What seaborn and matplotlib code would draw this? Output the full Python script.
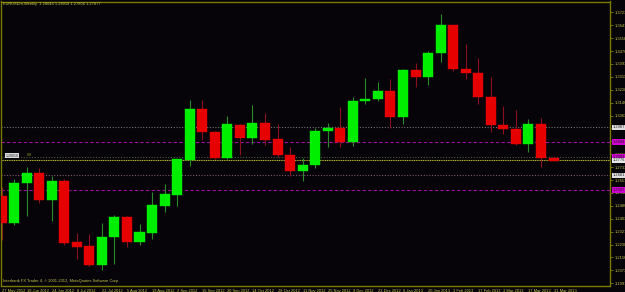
import matplotlib
matplotlib.use("Agg")
import matplotlib.pyplot as plt
import seaborn as sns
import numpy as np

# ---- data (weekly EURUSD candles) ----
opens  = [1.2551, 1.2378, 1.2630, 1.2694, 1.2523, 1.2645, 1.2255, 1.2229, 1.2107, 1.2285,
          1.2412, 1.2255, 1.2314, 1.2487, 1.2557, 1.2779, 1.3105, 1.2958, 1.2794, 1.3005,
          1.2922, 1.3014, 1.2911, 1.2809, 1.2707, 1.2745, 1.2963, 1.2986, 1.2892, 1.3158,
          1.3169, 1.3220, 1.3056, 1.3353, 1.3310, 1.3461, 1.3642, 1.3359, 1.3333, 1.3182,
          1.3005, 1.2977, 1.2879, 1.3007, 1.2792]
highs  = [1.2608, 1.2656, 1.2736, 1.2730, 1.2679, 1.2657, 1.2314, 1.2306, 1.2374, 1.2425,
          1.2423, 1.2370, 1.2576, 1.2624, 1.2783, 1.3163, 1.3163, 1.2962, 1.3062, 1.3009,
          1.3131, 1.3078, 1.3009, 1.2864, 1.2790, 1.2982, 1.3018, 1.3116, 1.3180, 1.3301,
          1.3276, 1.3295, 1.3359, 1.3397, 1.3476, 1.3711, 1.3645, 1.3519, 1.3429, 1.3312,
          1.3124, 1.3099, 1.3039, 1.3046, 1.2796]
lows   = [1.2267, 1.2363, 1.2423, 1.2502, 1.2389, 1.2235, 1.2146, 1.2101, 1.2075, 1.2112,
          1.2224, 1.2235, 1.2276, 1.2448, 1.2487, 1.2741, 1.2907, 1.2788, 1.2788, 1.2811,
          1.2881, 1.2875, 1.2800, 1.2677, 1.2647, 1.2726, 1.2864, 1.2864, 1.2870, 1.3135,
          1.3158, 1.2986, 1.3007, 1.3248, 1.3259, 1.3408, 1.3348, 1.3297, 1.3135, 1.2956,
          1.2943, 1.2875, 1.2832, 1.2736, 1.2772]
closes = [1.2378, 1.2630, 1.2694, 1.2523, 1.2645, 1.2250, 1.2224, 1.2107, 1.2288, 1.2412,
          1.2255, 1.2317, 1.2489, 1.2560, 1.2783, 1.3105, 1.2956, 1.2794, 1.3007, 1.2922,
          1.3014, 1.2909, 1.2809, 1.2707, 1.2745, 1.2963, 1.2986, 1.2892, 1.3158, 1.3171,
          1.3220, 1.3056, 1.3353, 1.3310, 1.3461, 1.3642, 1.3359, 1.3333, 1.3182, 1.3003,
          1.2977, 1.2879, 1.3007, 1.2790, 1.2774]

date_labels = ["27 May 2012", "10 Jun 2012", "24 Jun 2012", "8 Jul 2012", "22 Jul 2012",
               "5 Aug 2012", "19 Aug 2012", "2 Sep 2012", "16 Sep 2012", "30 Sep 2012",
               "14 Oct 2012", "28 Oct 2012", "11 Nov 2012", "25 Nov 2012", "9 Dec 2012",
               "23 Dec 2012", "6 Jan 2013", "20 Jan 2013", "3 Feb 2013", "17 Feb 2013",
               "3 Mar 2013", "17 Mar 2013", "31 Mar 2013"]

price_ticks = [1.19910, 1.20735, 1.21560, 1.22385, 1.23210, 1.24035, 1.24860, 1.25685,
               1.26510, 1.27335, 1.28160, 1.28985, 1.29810, 1.30635, 1.31460, 1.32285,
               1.33110, 1.33935, 1.34760, 1.35585, 1.36410, 1.37235]

level_prices = [1.2987, 1.2894, 1.2801, 1.2776, 1.2681, 1.2587]
level_colors = ["#707070", "#9a109a", "#4a5a40", "#b8b830", "#7a5a68", "#9a109a"]
level_styles = [(0, (1, 1.5)), (0, (3, 2)), (0, (1, 1.5)), (0, (1, 0.6)), (0, (1, 1.5)), (0, (3, 2))]
level_boxes = ["#e0e0e0", "#d000d0", "#d000d0", "#e8e8e8", "#e0e0e0", "#d000d0"]

title_text = "EURUSDm,Weekly  1.28044 1.28059 1.27806 1.27877"
footer_text = "Interbank FX Trader 4, \u00a9 2001-2012, MetaQuotes Software Corp."

# ---- style ----
BG = "#060409"
AX = "#7a7a00"
TXT = "#c4c450"
FS = 2.9
sns.set_theme(style="dark", rc={"axes.facecolor": BG, "figure.facecolor": BG})
plt.rcParams["font.family"] = ["Liberation Sans", "DejaVu Sans"]

fig = plt.figure(figsize=(6.25, 2.92), dpi=100)
W, H = 625, 292
ax = fig.add_axes([1 / W, (H - 285.5) / H, (610 - 1) / W, (285.5 - 1.5) / H])
ax.set_facecolor(BG)

x = np.arange(len(opens))
o = np.array(opens); c = np.array(closes); hi = np.array(highs); lo = np.array(lows)
up = c >= o

# wicks
ax.vlines(x[up], lo[up], hi[up], color="#2a8a2a", lw=0.8, zorder=2)
ax.vlines(x[~up], lo[~up], hi[~up], color="#8a1020", lw=0.8, zorder=2)
# bodies
bw = 0.8
ax.bar(x[up], (c - o)[up], bottom=o[up], width=bw, color="#00ee00", edgecolor="#00ee00",
       linewidth=0.3, zorder=3)
ax.bar(x[~up], (o - c)[~up], bottom=c[~up], width=bw, color="#e60000", edgecolor="#e60000",
       linewidth=0.3, zorder=3)

# horizontal levels with price boxes on the right scale
for p, col, ls, bc in zip(level_prices, level_colors, level_styles, level_boxes):
    ax.axhline(p, color=col, lw=0.8, ls=ls, zorder=1)
    ax.text(1.004, p, f"{p:.4f}", transform=ax.get_yaxis_transform(), fontsize=FS,
            color="#202020", va="center", ha="left", clip_on=False, zorder=5,
            bbox=dict(boxstyle="square,pad=0.2", fc=bc, ec="none"))

# small object labels at left
ax.text(0.3, 1.2806, "1.28010", fontsize=2.6, color="#303030", va="center", ha="left",
        bbox=dict(boxstyle="square,pad=0.1", fc="#d8d8d8", ec="none"), zorder=4)
ax.text(2.0, 1.2808, "HH", fontsize=2.6, color="#a0a020", va="center", ha="left", zorder=4)

ax.set_xlim(-0.04, 48.5)
ax.set_ylim(1.19763, 1.3793)

for s in ax.spines.values():
    s.set_color(AX)
    s.set_linewidth(1.0)
    s.set_visible(True)
ax.grid(False)

ax.set_xticks(x[::2])
ax.set_xticklabels(date_labels, fontsize=FS, color=TXT, ha="left")
ax.tick_params(axis="x", direction="out", length=2, width=0.6, color=AX, pad=0.6)
ax.yaxis.tick_right()
ax.set_yticks(price_ticks)
ax.set_yticklabels([f"{t:.5f}" for t in price_ticks], fontsize=FS, color=TXT)
ax.tick_params(axis="y", direction="out", length=2, width=0.6, color=AX, pad=1.2)

fig.text(3 / W, 1 - 4.5 / H, title_text, fontsize=FS, color=TXT, va="center", ha="left")
ax.text(0.003, 1 - (281 - 1.5) / (285.5 - 1.5), footer_text, transform=ax.transAxes,
        fontsize=FS, color=TXT, va="center", ha="left")

fig.savefig("out.png", dpi=100, facecolor=BG)
